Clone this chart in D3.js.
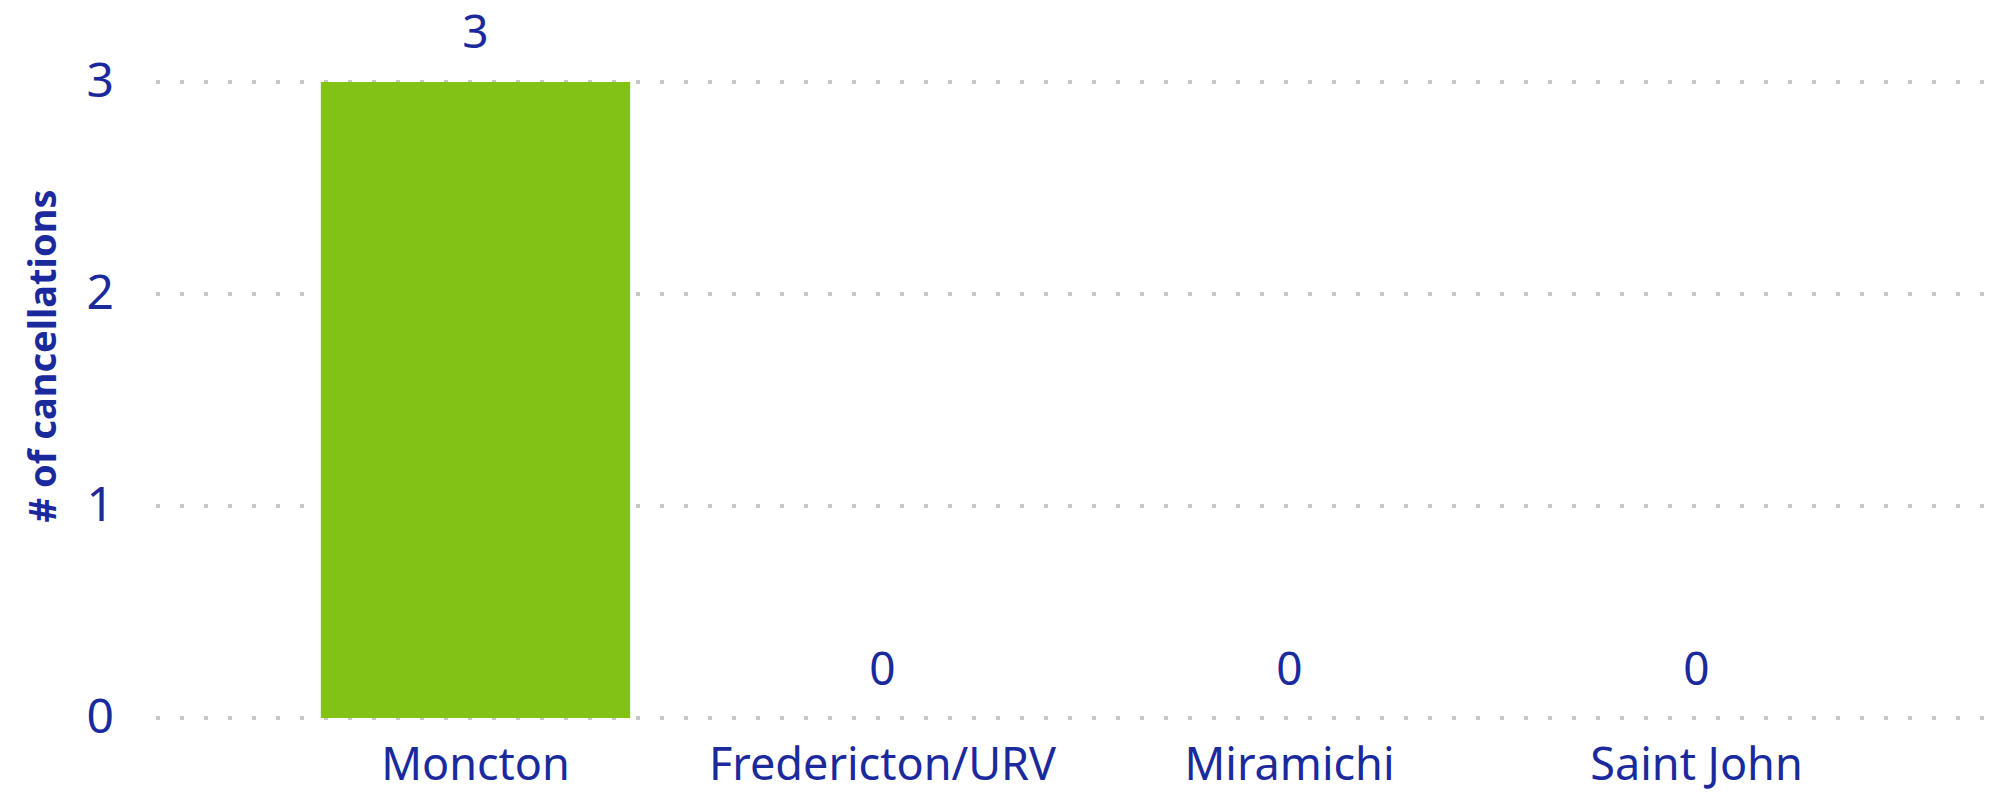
<!DOCTYPE html>
<meta charset="utf-8">
<style>
    body {
        margin: 0;
        background: #fff;
        font-family: 'Noto Sans', 'Open Sans', sans-serif;
    }
</style>
<script src="https://d3js.org/d3.v7.min.js"></script>
<div id="graph"></div>
<script>
    const categories = ["Moncton", "Fredericton/URV", "Miramichi", "Saint John"],
        cancellations = [3, 0, 0, 0],
        yTicks = [0, 1, 2, 3];

    const textColor = "#1a2a9c",
        barColor = "#82c115",
        gridColor = "#c8c8c8";

    const width = 1996, height = 799;

    const svg = d3.select("#graph")
        .append("svg")
        .attr("width", width)
        .attr("height", height);

    // scales
    const x = d3.scaleBand()
        .domain(categories)
        .range([272, 1900])
        .paddingInner(0.24)
        .paddingOuter(0.12);

    const y = d3.scaleLinear()
        .domain([0, 3])
        .range([718, 82]);

    // dotted gridlines
    svg.append("g")
        .selectAll("line")
        .data(yTicks)
        .enter().append("line")
        .attr("x1", 156)
        .attr("x2", 1988)
        .attr("y1", d => y(d))
        .attr("y2", d => y(d))
        .attr("stroke", gridColor)
        .attr("stroke-width", 4)
        .attr("stroke-dasharray", "4 20");

    // y axis labels
    const axisY = svg.append("g")
        .attr("transform", "translate(114,0)")
        .call(d3.axisLeft(y).tickValues(yTicks).tickSize(0).tickPadding(0).tickFormat(d3.format("d")));
    axisY.select(".domain").remove();
    axisY.selectAll("text")
        .attr("font-family", "Noto Sans")
        .attr("font-size", 48)
        .attr("fill", textColor)
        .attr("dy", "0.3em");

    // bars
    svg.append("g")
        .selectAll("rect")
        .data(categories)
        .enter().append("rect")
        .attr("x", d => x(d))
        .attr("width", x.bandwidth())
        .attr("y", (d, i) => y(cancellations[i]))
        .attr("height", (d, i) => y(0) - y(cancellations[i]))
        .attr("fill", barColor);

    // data labels
    svg.append("g")
        .selectAll("text")
        .data(categories)
        .enter().append("text")
        .attr("x", d => x(d) + x.bandwidth() / 2)
        .attr("y", (d, i) => cancellations[i] > 0 ? y(cancellations[i]) - 34 : y(0) - 33)
        .attr("text-anchor", "middle")
        .attr("font-size", 46)
        .attr("fill", textColor)
        .text((d, i) => cancellations[i]);

    // x axis labels
    const axisX = svg.append("g")
        .attr("transform", "translate(0,718)")
        .call(d3.axisBottom(x).tickSize(0).tickPadding(0));
    axisX.select(".domain").remove();
    axisX.selectAll("text")
        .attr("font-family", "Noto Sans")
        .attr("font-size", 45)
        .attr("fill", textColor)
        .attr("dy", null)
        .attr("y", 62);

    // axis title
    svg.append("text")
        .attr("transform", "translate(56,356)rotate(-90)")
        .attr("text-anchor", "middle")
        .attr("font-size", 38)
        .attr("font-weight", "bold")
        .attr("fill", textColor)
        .text("# of cancellations");
</script>
